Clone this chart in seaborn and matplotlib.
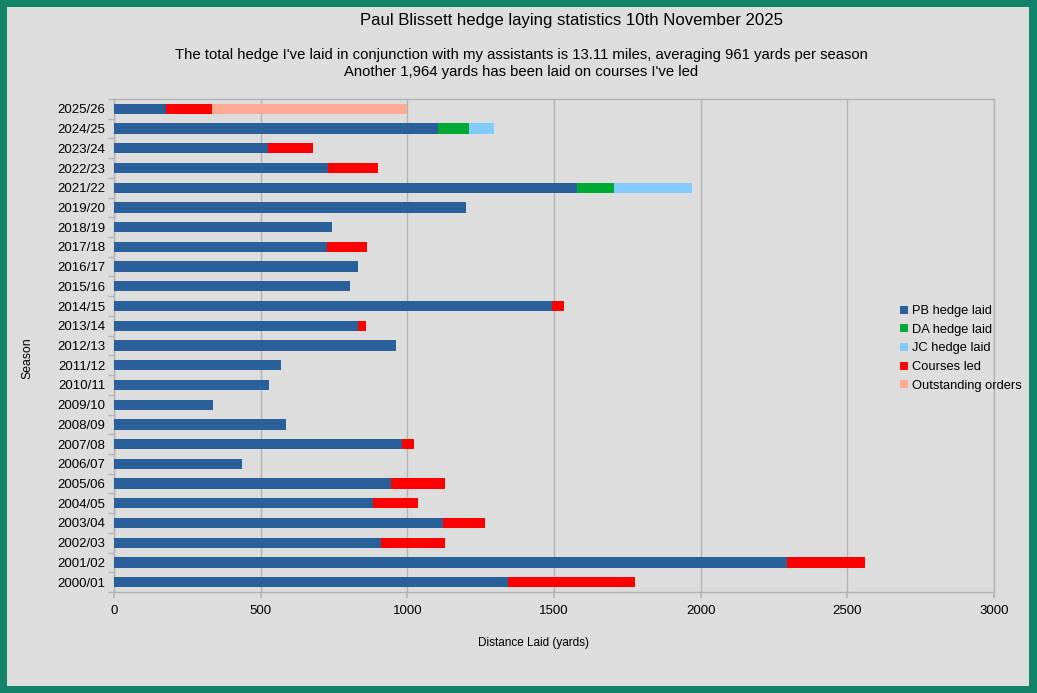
import matplotlib
matplotlib.use("Agg")
import matplotlib.pyplot as plt
from matplotlib.patches import Rectangle, Patch
import seaborn as sns
import pandas as pd
import numpy as np

seasons = ["2025/26", "2024/25", "2023/24", "2022/23", "2021/22", "2019/20", "2018/19",
           "2017/18", "2016/17", "2015/16", "2014/15", "2013/14", "2012/13", "2011/12",
           "2010/11", "2009/10", "2008/09", "2007/08", "2006/07", "2005/06", "2004/05",
           "2003/04", "2002/03", "2001/02", "2000/01"]
pb_laid = [177, 1105, 525, 729, 1580, 1199, 743, 726, 831, 803, 1493, 833, 963, 569,
           530, 336, 588, 982, 437, 944, 883, 1123, 911, 2295, 1343]
da_laid = [0, 105, 0, 0, 125, 0, 0, 0, 0, 0, 0, 0, 0, 0, 0, 0, 0, 0, 0, 0, 0, 0, 0, 0, 0]
jc_laid = [0, 85, 0, 0, 266, 0, 0, 0, 0, 0, 0, 0, 0, 0, 0, 0, 0, 0, 0, 0, 0, 0, 0, 0, 0]
courses_led = [158, 0, 155, 170, 0, 0, 0, 138, 0, 0, 40, 25, 0, 0, 0, 0, 0, 40, 0, 183,
               155, 142, 219, 265, 434]
outstanding = [665, 0, 0, 0, 0, 0, 0, 0, 0, 0, 0, 0, 0, 0, 0, 0, 0, 0, 0, 0, 0, 0, 0, 0, 0]

series_names = ["PB hedge laid", "DA hedge laid", "JC hedge laid", "Courses led", "Outstanding orders"]
series_values = [pb_laid, da_laid, jc_laid, courses_led, outstanding]
colors = ["#2a6099", "#00a933", "#83caff", "#ff0000", "#ffaa95"]

W, H = 1037, 693
sns.set_theme(style="white")
plt.rcParams["font.family"] = ["Liberation Sans", "DejaVu Sans"]
plt.rcParams["text.color"] = "black"
plt.rcParams["axes.labelcolor"] = "black"
plt.rcParams["xtick.color"] = "black"
plt.rcParams["ytick.color"] = "black"

fig = plt.figure(figsize=(W / 100, H / 100), dpi=100, facecolor="#13836a")
fig.patches.append(Rectangle((7 / W, 1 - 686 / H), (1029 - 7) / W, (686 - 7) / H,
                             transform=fig.transFigure, facecolor="#dddddd",
                             edgecolor="none", zorder=-10))

ax = fig.add_axes([114 / W, 1 - 592 / H, (994 - 114) / W, (592 - 99) / H])
ax.set_zorder(2)
ax.set_facecolor("#dddddd")

df = pd.DataFrame({"season": seasons})
cum = np.zeros(len(seasons))
cums = []
for vals in series_values:
    cum = cum + np.array(vals, dtype=float)
    cums.append(cum.copy())

# draw cumulative totals from outermost to innermost so segments appear stacked
for name, total, col in reversed(list(zip(series_names, cums, colors))):
    d = df.copy()
    d["value"] = total
    sns.barplot(data=d, y="season", x="value", order=seasons, orient="h",
                color=col, width=0.52, saturation=1, ax=ax, zorder=3,
                edgecolor="none", linewidth=0)

ax.set_xlim(0, 3000)
ax.set_ylim(len(seasons) - 0.5, -0.5)
ax.set_xticks(np.arange(0, 3001, 500))
ax.set_axisbelow(True)
ax.grid(axis="x", color="#b3b3b3", linewidth=1, zorder=0)
ax.grid(axis="y", visible=False)
for s in ax.spines.values():
    s.set_color("#b3b3b3")
    s.set_linewidth(1)

ax.set_yticks(np.arange(len(seasons)))
ax.set_yticklabels(seasons)
ax.set_yticks(np.arange(len(seasons) + 1) - 0.5, minor=True)
ax.tick_params(axis="y", which="major", length=0, labelsize=9.5, pad=6, labelcolor="black")
ax.tick_params(axis="y", which="minor", length=4, color="#b3b3b3", direction="out", left=True)
ax.tick_params(axis="x", which="major", length=4, color="#b3b3b3", labelsize=9.5, pad=5,
               labelcolor="black", bottom=True)

ax.set_xlabel("Distance Laid (yards)", fontsize=8.5, color="black")
ax.set_ylabel("Season", fontsize=8.8, color="black")
ax.xaxis.set_label_coords((533.5 - 114) / 880, (592 - 643) / 493)
ax.yaxis.set_label_coords((27 - 114) / 880, (592 - 358) / 493)
ax.xaxis.label.set_verticalalignment("center")
ax.yaxis.label.set_verticalalignment("center")

handles = [Patch(facecolor=c, edgecolor="none", label=n) for n, c in zip(series_names, colors)]
leg = fig.legend(handles=handles, loc="upper left", bbox_to_anchor=(895 / W, 1 - 300 / H),
                 frameon=False, fontsize=9.25, handlelength=0.6, handleheight=0.6,
                 handletextpad=0.3, labelspacing=0.52, borderaxespad=0)
for t in leg.get_texts():
    t.set_color("black")

fig.text(571 / W, 1 - 20 / H, "Paul Blissett hedge laying statistics 10th November 2025",
         ha="center", va="center", fontsize=12.1, color="black")
fig.text(521 / W, 1 - 55 / H,
         "The total hedge I've laid in conjunction with my assistants is 13.11 miles, averaging 961 yards per season",
         ha="center", va="center", fontsize=10.7, color="black")
fig.text(521 / W, 1 - 72 / H, "Another 1,964 yards has been laid on courses I've led",
         ha="center", va="center", fontsize=10.7, color="black")

fig.savefig("out.png", dpi=100, facecolor=fig.get_facecolor())
